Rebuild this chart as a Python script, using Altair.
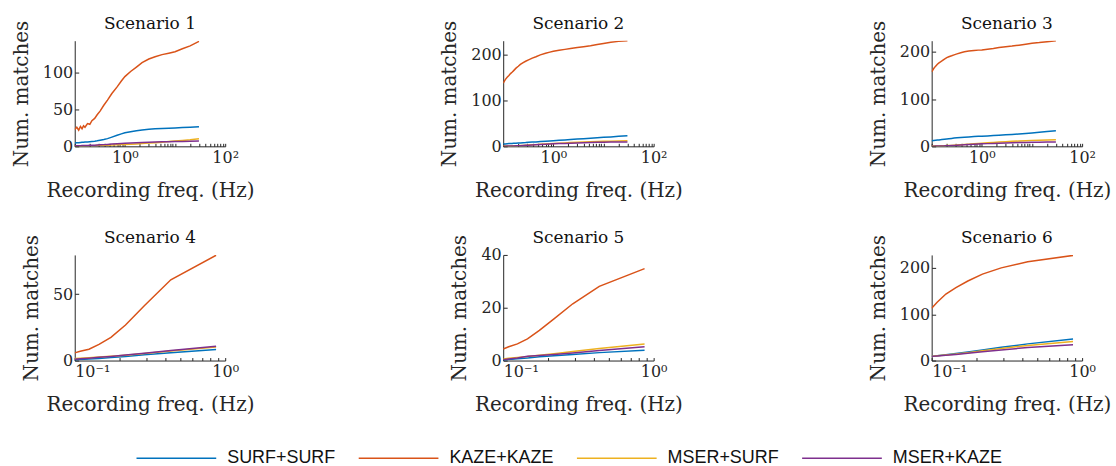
import altair as alt
import pandas as pd

series_names = ["SURF+SURF", "KAZE+KAZE", "MSER+SURF", "MSER+KAZE"]
series_colors = ["#0072BD", "#D95319", "#EDB120", "#7E2F8E"]

freq_top = [0.10, 0.11, 0.12, 0.13, 0.14, 0.15, 0.16, 0.18, 0.20, 0.22, 0.25, 0.28, 0.32, 0.38, 0.45,
            0.55, 0.7, 0.85, 1.0, 1.3, 1.7, 2.2, 3, 4, 5.5, 7.5, 10, 14, 20, 30]
freq_bottom = [0.1, 0.10875, 0.1243, 0.145, 0.174, 0.2175, 0.29, 0.435, 0.87]

# Scenario 1
s1_surf = [4.5, 4.8, 5.0, 5.2, 5.4, 5.6, 5.8, 6.0, 6.3, 6.6, 7.0, 7.5, 8.2, 9.2, 10.5,
           12.5, 15, 17, 18.5, 20, 21.3, 22.3, 23.2, 23.8, 24.2, 24.6, 25, 25.5, 26, 26.8]
s1_kaze = [23, 26, 22, 27, 24, 28, 26, 31, 30, 35, 38, 43, 48, 56, 63,
           72, 81, 89, 95, 102, 108, 114, 119, 122, 125, 127, 129, 133, 137, 143]
s1_msurf = [0.3, 0.3, 0.4, 0.4, 0.5, 0.5, 0.6, 0.6, 0.7, 0.8, 0.9, 1.0, 1.1, 1.3, 1.5,
            1.7, 2.0, 2.3, 2.5, 2.9, 3.3, 3.8, 4.4, 5.0, 5.7, 6.4, 7.1, 8.0, 8.9, 10.2]
s1_mkaze = [0.8, 0.8, 0.9, 0.9, 1.0, 1.0, 1.1, 1.2, 1.3, 1.4, 1.6, 1.8, 2.0, 2.3, 2.6,
            3.0, 3.4, 3.8, 4.1, 4.5, 4.9, 5.2, 5.6, 5.9, 6.1, 6.3, 6.5, 6.7, 6.9, 7.2]
# Scenario 2
s2_surf = [5.0, 5.3, 5.6, 5.9, 6.1, 6.3, 6.5, 6.9, 7.2, 7.5, 7.9, 8.2, 8.7, 9.2, 9.7,
           10.4, 11.1, 11.8, 12.3, 13.1, 13.9, 14.8, 15.8, 16.6, 17.7, 18.7, 19.6, 20.6, 21.8, 23.0]
s2_kaze = [138, 146, 151, 155, 159, 162, 165, 171, 175, 179, 183, 186, 189, 193, 196,
           200, 203.5, 206, 208, 210, 212, 214, 216, 218, 220, 222.5, 225, 227.5, 229.5, 231]
s2_msurf = [0.5, 0.6, 0.7, 0.8, 0.9, 1.0, 1.1, 1.3, 1.5, 1.7, 2.0, 2.3, 2.7, 3.2, 3.7,
            4.3, 5.0, 5.6, 6.1, 6.8, 7.5, 8.1, 8.8, 9.4, 10.0, 10.5, 10.9, 11.3, 11.7, 12.0]
s2_mkaze = [0.3, 0.4, 0.5, 0.6, 0.7, 0.8, 0.9, 1.1, 1.3, 1.5, 1.8, 2.1, 2.5, 2.9, 3.4,
            3.9, 4.5, 5.0, 5.4, 5.9, 6.4, 6.9, 7.4, 7.9, 8.3, 8.7, 9.0, 9.2, 9.4, 9.5]
# Scenario 3
s3_surf = [12, 12.4, 12.8, 13.2, 13.6, 14, 14.4, 15.0, 15.6, 16.1, 16.8, 17.4, 18.1, 18.8, 19.4,
           20.0, 20.6, 21.1, 21.5, 22.1, 22.8, 23.5, 24.3, 25.0, 26.0, 27.2, 28.4, 29.9, 31.4, 33]
s3_kaze = [158, 165, 170, 174, 177, 179, 181, 185, 188, 190, 192, 194, 196, 198.5, 200.5,
           202, 203, 204, 204.5, 206, 207.5, 209.5, 211, 212.5, 214.5, 216.5, 218.5, 220, 222, 224]
s3_msurf = [0.5, 0.6, 0.7, 0.8, 0.9, 1.0, 1.1, 1.3, 1.5, 1.7, 2.0, 2.4, 2.8, 3.3, 3.9,
            4.6, 5.4, 6.1, 6.6, 7.4, 8.2, 8.9, 9.8, 10.5, 11.3, 12.0, 12.6, 13.1, 13.6, 14.0]
s3_mkaze = [0.3, 0.4, 0.5, 0.6, 0.7, 0.8, 0.9, 1.0, 1.2, 1.4, 1.7, 2.0, 2.4, 2.8, 3.2,
            3.7, 4.3, 4.8, 5.2, 5.7, 6.2, 6.6, 7.1, 7.5, 7.9, 8.2, 8.5, 8.7, 8.9, 9.0]
# Scenario 4
s4_surf = [0.5, 0.8, 1.1, 1.6, 2.3, 3.1, 4.3, 5.9, 8.3]
s4_kaze = [5.75, 7.0, 8.5, 12.2, 17.5, 26.75, 41.25, 60.75, 79.25]
s4_msurf = [1.5, 1.8, 2.1, 2.6, 3.2, 4.0, 5.3, 7.2, 10.2]
s4_mkaze = [1.0, 1.4, 1.8, 2.4, 3.1, 4.1, 5.5, 7.5, 10.8]
# Scenario 5
s5_surf = [0.1, 0.4, 0.7, 1.0, 1.4, 1.8, 2.3, 3.0, 3.9]
s5_kaze = [4.4, 5.2, 6.3, 8.2, 11.4, 15.8, 21.5, 28.1, 34.8]
s5_msurf = [0.6, 0.9, 1.2, 1.5, 2.0, 2.6, 3.4, 4.6, 6.3]
s5_mkaze = [0.3, 0.6, 1.0, 1.6, 1.9, 2.3, 2.9, 3.8, 5.2]
# Scenario 6
s6_surf = [9, 10.5, 12.5, 15, 18.5, 23, 28.5, 36, 46.6]
s6_kaze = [113, 126, 143.5, 157.6, 171.7, 186.6, 200, 213.4, 227]
s6_msurf = [9, 10.3, 12, 14, 17, 21, 26, 32.5, 41]
s6_mkaze = [9, 10, 11.5, 13.3, 15.8, 19, 23, 28, 34]

titles = ["Scenario 1", "Scenario 2", "Scenario 3", "Scenario 4", "Scenario 5", "Scenario 6"]
y_max = [144, 231, 224, 79.5, 40, 228]
y_ticks = [[0, 50, 100], [0, 100, 200], [0, 100, 200], [0, 50], [0, 20, 40], [0, 100, 200]]

x_ticks_top = [0.1, 0.2, 0.3, 0.4, 0.5, 0.6, 0.7, 0.8, 0.9, 1, 2, 3, 4, 5, 6, 7, 8, 9,
               10, 20, 30, 40, 50, 60, 70, 80, 90, 100]
x_ticks_bottom = [0.1, 0.2, 0.3, 0.4, 0.5, 0.6, 0.7, 0.8, 0.9, 1]
label_top = "datum.value == 1 ? '10⁰' : (datum.value == 100 ? '10²' : '')"
label_bottom = "datum.value == 0.1 ? '10⁻¹' : (datum.value == 1 ? '10⁰' : '')"

panel_series = [
    [s1_surf, s1_kaze, s1_msurf, s1_mkaze],
    [s2_surf, s2_kaze, s2_msurf, s2_mkaze],
    [s3_surf, s3_kaze, s3_msurf, s3_mkaze],
    [s4_surf, s4_kaze, s4_msurf, s4_mkaze],
    [s5_surf, s5_kaze, s5_msurf, s5_mkaze],
    [s6_surf, s6_kaze, s6_msurf, s6_mkaze],
]

SERIF = "DejaVu Serif"
TXT = "#262626"


def panel(i):
    top = i < 3
    freqs = freq_top if top else freq_bottom
    rows = []
    for name, vals in zip(series_names, panel_series[i]):
        for f, v in zip(freqs, vals):
            rows.append({"freq": f, "matches": v, "method": name})
    df = pd.DataFrame(rows)
    xdom = [0.1, 100] if top else [0.1, 1]
    x_axis_kwargs = dict(
        title="Recording freq. (Hz)",
        values=x_ticks_top if top else x_ticks_bottom,
        labelExpr=label_top if top else label_bottom,
        labelOverlap=False, labelFlush=False,
        tickSize={"expr": "-3"},
    )
    if not top:
        x_axis_kwargs["labelAlign"] = {"condition": {"test": "datum.value == 0.1", "value": "left"},
                                       "value": "center"}
    return alt.Chart(df).mark_line(strokeWidth=1.5, clip=True).encode(
        x=alt.X("freq:Q",
                scale=alt.Scale(type="log", domain=xdom, nice=False),
                axis=alt.Axis(**x_axis_kwargs)),
        y=alt.Y("matches:Q",
                scale=alt.Scale(domain=[0, y_max[i]], nice=False, zero=True),
                axis=alt.Axis(title="Num. matches", values=y_ticks[i],
                              format="d", labelOverlap=False, labelFlush=False,
                              tickSize={"expr": "-4"})),
        color=alt.Color("method:N",
                        scale=alt.Scale(domain=series_names, range=series_colors),
                        legend=alt.Legend(title=None, orient="none", legendX=61, legendY=378)),
    ).properties(width=151, height=106, title=titles[i])


chart = alt.concat(
    *[panel(i) for i in range(6)],
    columns=3,
    spacing={"row": 109, "column": 279},
    bounds="flush",
).properties(
    padding={"left": 11, "top": 14, "right": 5, "bottom": 0}
).configure_view(stroke=None).configure_axis(
    grid=False,
    domainColor=TXT,
    domainWidth=1,
    tickColor=TXT,
    labelFont=SERIF,
    labelFontSize=16,
    labelColor=TXT,
    labelPadding=6,
    titleFont=SERIF,
    titleFontSize=20,
    titleFontWeight="normal",
    titleColor=TXT,
).configure_axisY(titlePadding=11).configure_axisX(titlePadding=15).configure_title(
    font=SERIF, fontSize=17, fontWeight="normal", color="#111", anchor="middle", offset=-13
).configure_legend(
    direction="horizontal",
    labelFont="Liberation Sans",
    labelFontSize=18,
    labelColor="#111",
    symbolType="stroke",
    symbolSize=6400,
    symbolStrokeWidth=1.5,
    labelOffset=10,
    columnPadding=20,
    padding=0,
)

chart.save("out.html", embed_options={"renderer": "svg", "actions": False})
